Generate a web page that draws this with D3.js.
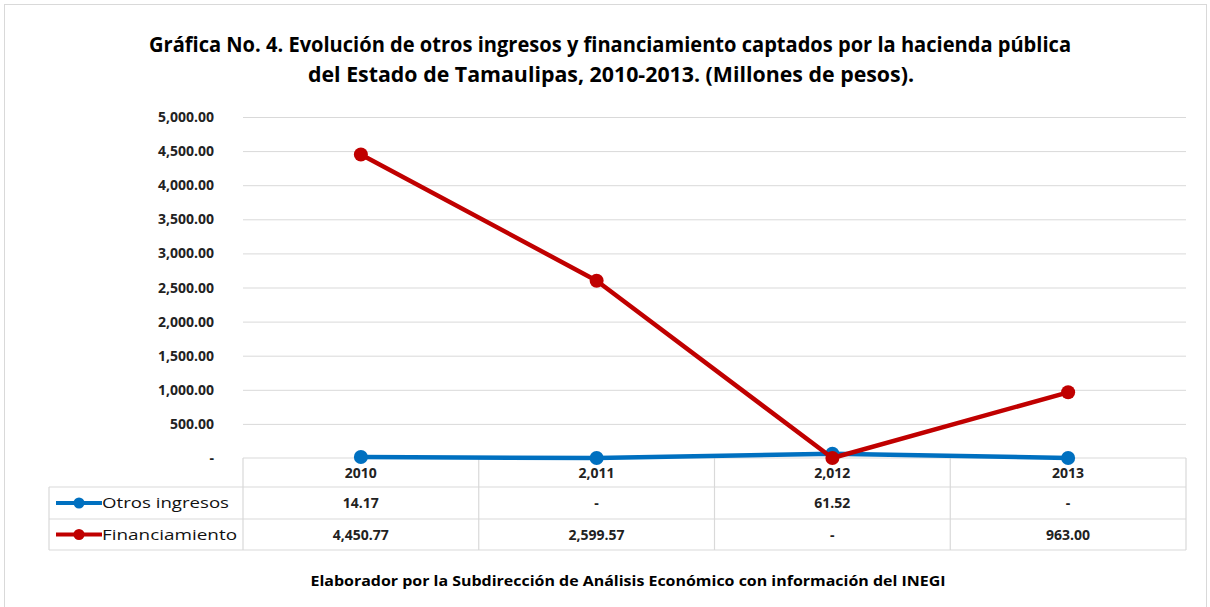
<!DOCTYPE html>
<html>
<head>
<meta charset="utf-8">
<script src="https://cdn.jsdelivr.net/npm/d3@7"></script>
<style>
  body { margin: 0; background: #fff; }
  text { font-family: "Open Sans", "Liberation Sans", sans-serif; }
</style>
</head>
<body>
<div id="chart"></div>
<script>
// data
const years = ["2010", "2,011", "2,012", "2013"];
const otros = [14.17, 0, 61.52, 0];
const financiamiento = [4450.77, 2599.57, 0, 963.00];
const yTicks = [0, 500, 1000, 1500, 2000, 2500, 3000, 3500, 4000, 4500, 5000];

const seriesNames = ["Otros ingresos", "Financiamiento"];
const seriesValues = [otros, financiamiento];
const seriesColors = ["#0070C0", "#C00000"];

const width = 1210, height = 607;
const plotLeft = 243, plotRight = 1186, plotTop = 117, plotBottom = 458;

const svg = d3.select("#chart").append("svg")
    .attr("width", width)
    .attr("height", height);

// outer frame
svg.append("rect")
    .attr("x", 4.5).attr("y", 4.5)
    .attr("width", 1202).attr("height", 610)
    .attr("fill", "none")
    .attr("stroke", "#d9d9d9");

// title
const title = svg.append("g").attr("font-weight", "bold").attr("fill", "#000");
title.append("text")
    .attr("x", 610).attr("y", 52)
    .attr("text-anchor", "middle")
    .attr("font-size", 21)
    .attr("textLength", 922).attr("lengthAdjust", "spacingAndGlyphs")
    .text("Gráfica No. 4. Evolución de otros ingresos y  financiamiento captados por la hacienda pública");
title.append("text")
    .attr("x", 611).attr("y", 82)
    .attr("text-anchor", "middle")
    .attr("font-size", 21)
    .attr("textLength", 606).attr("lengthAdjust", "spacingAndGlyphs")
    .text("del Estado de Tamaulipas, 2010-2013. (Millones de pesos).");

// scales
const x = d3.scaleBand().domain(years).range([plotLeft, plotRight]);
const y = d3.scaleLinear().domain([0, 5000]).range([plotBottom, plotTop]);

const fmt = d3.format(",.2f");
const label = v => v === 0 ? "-" : fmt(v);

// gridlines
svg.append("g")
    .selectAll("line")
    .data(yTicks.filter(d => d > 0))
    .join("line")
    .attr("x1", plotLeft).attr("x2", plotRight)
    .attr("y1", d => y(d) + 0.5).attr("y2", d => y(d) + 0.5)
    .attr("stroke", "#d9d9d9")
    .attr("stroke-width", 1);

// y labels
svg.append("g")
    .selectAll("text")
    .data(yTicks)
    .join("text")
    .attr("x", 214)
    .attr("y", d => y(d) + 5)
    .attr("text-anchor", "end")
    .attr("font-size", 14)
    .attr("font-weight", "bold")
    .attr("fill", "#222")
    .text(d => label(d));

// data table
const rowLines = [plotBottom, 487, 519, 550];
const tableLeft = 49;
const grid = svg.append("g").attr("stroke", "#d9d9d9").attr("stroke-width", 1.2);
grid.append("line").attr("x1", plotLeft).attr("x2", plotRight).attr("y1", plotBottom).attr("y2", plotBottom);
rowLines.slice(1).forEach(r => {
    grid.append("line").attr("x1", tableLeft).attr("x2", plotRight).attr("y1", r).attr("y2", r);
});
grid.append("line").attr("x1", tableLeft).attr("x2", tableLeft).attr("y1", 487).attr("y2", 550);
grid.selectAll(".v")
    .data(years.map(d => x(d)).concat([plotRight]))
    .join("line")
    .attr("x1", d => d).attr("x2", d => d)
    .attr("y1", plotBottom).attr("y2", 550);

// header labels (years)
svg.append("g")
    .selectAll("text")
    .data(years)
    .join("text")
    .attr("x", d => x(d) + x.bandwidth() / 2)
    .attr("y", 478)
    .attr("text-anchor", "middle")
    .attr("font-size", 14)
    .attr("font-weight", "bold")
    .attr("fill", "#222")
    .text(d => d);

// table rows
seriesValues.forEach((vals, i) => {
    const cy = (rowLines[i + 1] + rowLines[i + 2]) / 2;
    const row = svg.append("g");
    row.append("line")
        .attr("x1", 56).attr("x2", 102)
        .attr("y1", cy).attr("y2", cy)
        .attr("stroke", seriesColors[i])
        .attr("stroke-width", 4);
    row.append("circle")
        .attr("cx", 79).attr("cy", cy).attr("r", 5.5)
        .attr("fill", seriesColors[i]);
    row.append("text")
        .attr("x", 102).attr("y", cy + 5)
        .attr("font-size", 15)
        .attr("fill", "#111")
        .attr("textLength", i === 0 ? 127 : 135).attr("lengthAdjust", "spacingAndGlyphs")
        .text(seriesNames[i]);
    row.selectAll(".val")
        .data(vals)
        .join("text")
        .attr("x", (d, j) => x(years[j]) + x.bandwidth() / 2)
        .attr("y", cy + 5)
        .attr("text-anchor", "middle")
        .attr("font-size", 14)
        .attr("font-weight", "bold")
        .attr("fill", "#222")
        .text(d => label(d));
});

// lines + markers
const line = d3.line()
    .x((d, j) => x(years[j]) + x.bandwidth() / 2)
    .y(d => y(d));

seriesValues.forEach((vals, i) => {
    const g = svg.append("g");
    g.append("path")
        .datum(vals)
        .attr("d", line)
        .attr("fill", "none")
        .attr("stroke", seriesColors[i])
        .attr("stroke-width", 4.5)
        .attr("stroke-linejoin", "round");
    g.selectAll("circle")
        .data(vals)
        .join("circle")
        .attr("cx", (d, j) => x(years[j]) + x.bandwidth() / 2)
        .attr("cy", d => y(d))
        .attr("r", 7)
        .attr("fill", seriesColors[i]);
});

// footer
svg.append("text")
    .attr("x", 628).attr("y", 586)
    .attr("text-anchor", "middle")
    .attr("font-size", 14.5)
    .attr("font-weight", "bold")
    .attr("fill", "#000")
    .attr("textLength", 635).attr("lengthAdjust", "spacingAndGlyphs")
    .text("Elaborador por la Subdirección de Análisis Económico con información del INEGI");
</script>
</body>
</html>
